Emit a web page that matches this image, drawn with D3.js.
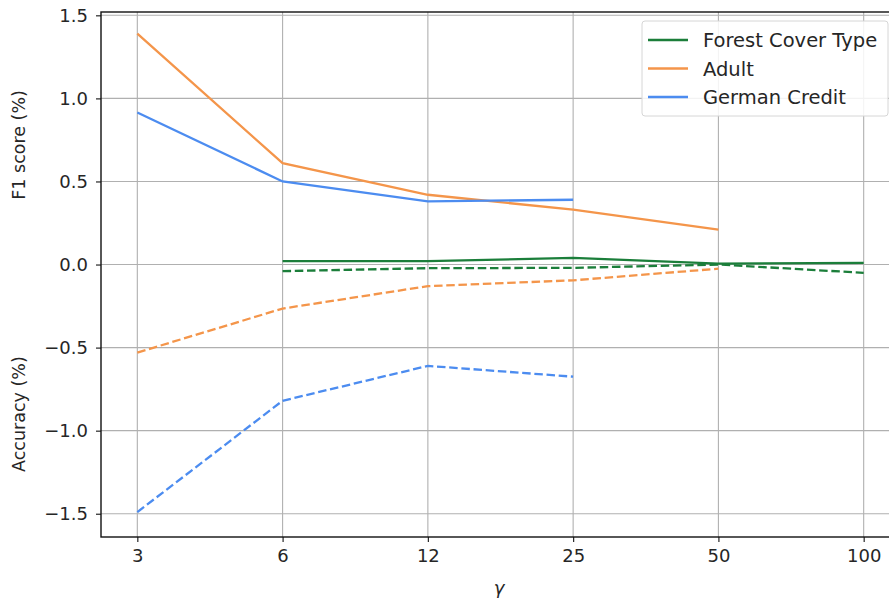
<!DOCTYPE html>
<html>
<head>
<meta charset="utf-8">
<script src="https://cdn.jsdelivr.net/npm/d3@7"></script>
<style>
  body { margin: 0; background: #fff; }
  svg { font-family: "DejaVu Sans", sans-serif; }
</style>
</head>
<body>
<div id="graf"></div>
<script>
const gammas = ["3", "6", "12", "25", "50", "100"];
const yTicks = [-1.5, -1.0, -0.5, 0.0, 0.5, 1.0, 1.5];

// F1 score (solid) and accuracy (dashed), null = no point
const forestF1 = [null, 0.02, 0.02, 0.04, 0.005, 0.01];
const forestAcc = [null, -0.04, -0.022, -0.02, 0.0, -0.05];
const adultF1 = [1.39, 0.61, 0.42, 0.33, 0.21, null];
const adultAcc = [-0.53, -0.265, -0.13, -0.095, -0.025, null];
const germanF1 = [0.915, 0.50, 0.38, 0.39, null, null];
const germanAcc = [-1.49, -0.82, -0.61, -0.675, null, null];

const series = [
  { name: "Forest Cover Type", color: "#1b7e3a", f1: forestF1, acc: forestAcc },
  { name: "Adult", color: "#f4954a", f1: adultF1, acc: adultAcc },
  { name: "German Credit", color: "#4c8cf0", f1: germanF1, acc: germanAcc },
];

const ancho_total = 889;
const alto_total = 601;
const margins = { top: 12, left: 101, right: -11, bottom: 64 };
const ancho = ancho_total - margins.left - margins.right;
const alto = alto_total - margins.top - margins.bottom;

const svg = d3.select("#graf")
  .append("svg")
  .attr("width", ancho_total)
  .attr("height", alto_total)
  .append("g")
  .attr("transform", `translate(${margins.left}, ${margins.top})`);

const x = d3.scalePoint().domain(gammas).range([0, ancho]).padding(0.25);
const y = d3.scaleLinear().domain([-1.64, 1.52]).range([alto, 0]);

// grid
svg.append("g")
  .selectAll("line.vg")
  .data(gammas)
  .join("line")
  .attr("x1", (d) => x(d)).attr("x2", (d) => x(d))
  .attr("y1", 0).attr("y2", alto)
  .attr("stroke", "#b0b0b0").attr("stroke-width", 1.1);

svg.append("g")
  .selectAll("line.hg")
  .data(yTicks)
  .join("line")
  .attr("y1", (d) => y(d)).attr("y2", (d) => y(d))
  .attr("x1", 0).attr("x2", ancho)
  .attr("stroke", "#b0b0b0").attr("stroke-width", 1.1);

// lines
const line = d3.line()
  .defined((d) => d[1] !== null)
  .x((d) => x(d[0]))
  .y((d) => y(d[1]));

series.forEach((s) => {
  svg.append("path")
    .datum(gammas.map((g, i) => [g, s.acc[i]]))
    .attr("d", line)
    .attr("fill", "none")
    .attr("stroke", s.color)
    .attr("stroke-width", 2.3)
    .attr("stroke-dasharray", "8.5,3.7");
  svg.append("path")
    .datum(gammas.map((g, i) => [g, s.f1[i]]))
    .attr("d", line)
    .attr("fill", "none")
    .attr("stroke", s.color)
    .attr("stroke-width", 2.3);
});

// axes
const xAxis = svg.append("g")
  .attr("transform", `translate(0,${alto})`)
  .call(d3.axisBottom(x).tickSize(5).tickPadding(7));
const yAxis = svg.append("g")
  .call(d3.axisLeft(y).tickValues(yTicks).tickFormat(d3.format(".1f")).tickSize(5).tickPadding(8));

[xAxis, yAxis].forEach((a) => {
  a.selectAll("text").attr("font-size", 18).attr("fill", "#262626").attr("font-family", "DejaVu Sans");
  a.selectAll(".tick line").attr("stroke", "#262626").attr("stroke-width", 1.2);
  a.select(".domain").remove();
});
yAxis.selectAll("text").text((d) => d3.format(".1f")(d).replace("-", "\u2212"));

// spines
svg.append("rect")
  .attr("x", 0).attr("y", 0)
  .attr("width", ancho).attr("height", alto)
  .attr("fill", "none").attr("stroke", "#111").attr("stroke-width", 1.4);

// axis labels
svg.append("text")
  .attr("transform", `translate(-76, ${y(0.72)}) rotate(-90)`)
  .attr("text-anchor", "middle")
  .attr("font-size", 17.5).attr("fill", "#262626")
  .text("F1 score (%)");
svg.append("text")
  .attr("transform", `translate(-76, ${y(-0.9)}) rotate(-90)`)
  .attr("text-anchor", "middle")
  .attr("font-size", 17.5).attr("fill", "#262626")
  .text("Accuracy (%)");
svg.append("text")
  .attr("x", 398).attr("y", alto + 57)
  .attr("text-anchor", "middle")
  .attr("font-size", 18).attr("font-style", "italic").attr("fill", "#262626")
  .text("γ");

// legend
const legend = svg.append("g").attr("transform", "translate(541, 9)");
legend.append("rect")
  .attr("width", 246).attr("height", 95).attr("rx", 3)
  .attr("fill", "#fff").attr("fill-opacity", 0.85)
  .attr("stroke", "#d6d6d6");
series.forEach((s, i) => {
  const g = legend.append("g").attr("transform", `translate(0, ${19 + i * 28.5})`);
  g.append("line").attr("x1", 6).attr("x2", 46)
    .attr("stroke", s.color).attr("stroke-width", 2.3);
  g.append("text").attr("x", 61).attr("y", 7)
    .attr("font-size", 19.5).attr("fill", "#262626")
    .text(s.name);
});
</script>
</body>
</html>
